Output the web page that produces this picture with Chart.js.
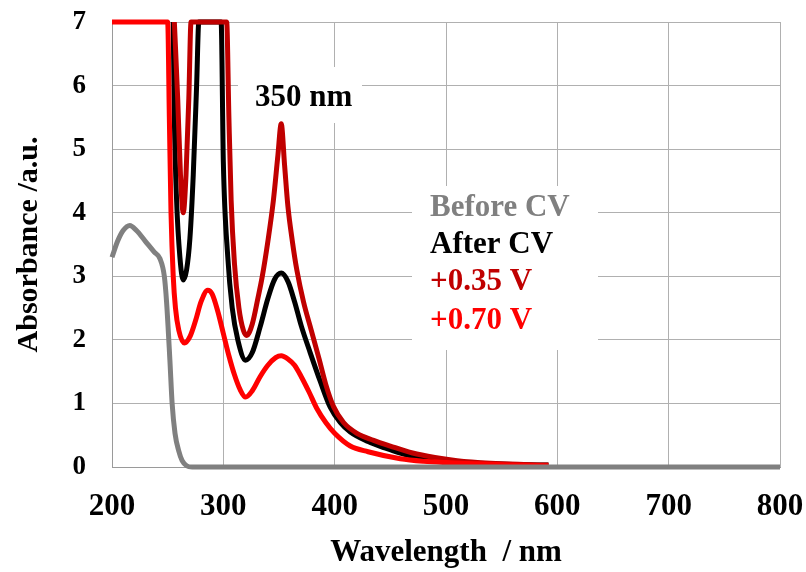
<!DOCTYPE html>
<html lang="en">
<head>
  <meta charset="UTF-8">
  <title>Absorbance spectra</title>
  <script src="https://cdn.jsdelivr.net/npm/chart.js"></script>
  <style>
    html, body {
      margin: 0;
      padding: 0;
      background: #fff;
    }
    #wrap {
      width: 806px;
      height: 572px;
    }
  </style>
</head>
<body>
  <div id="wrap"><canvas id="grafico" width="806" height="572"></canvas></div>

  <script>
    // spectra (wavelength nm / absorbance)
    const wlBefore = [200, 205, 210, 216, 222, 230, 238, 243, 247, 249, 252, 254, 256.6, 260, 263, 267, 272, 800];
    const absBefore = [3.3, 3.55, 3.72, 3.8, 3.72, 3.55, 3.38, 3.28, 3.0, 2.6, 1.68, 1.0, 0.53, 0.25, 0.1, 0.02, 0, 0];

    const wlAfter = [255, 256, 258, 261, 264, 267, 270, 273, 276, 278, 298, 300, 304, 308, 313, 320, 326, 333, 340, 346, 352, 358, 364, 370, 378, 387, 396, 405, 414, 430, 445, 459, 480, 500, 530, 560, 592];
    const absAfter = [7, 5.5, 4.2, 3.3, 2.94, 3.1, 3.6, 4.6, 6.0, 7, 7, 4.8, 3.3, 2.5, 2.0, 1.68, 1.8, 2.2, 2.65, 2.95, 3.05, 2.92, 2.6, 2.22, 1.8, 1.35, 0.94, 0.7, 0.55, 0.4, 0.3, 0.22, 0.13, 0.09, 0.06, 0.04, 0.03];

    const wl035 = [256, 259, 261.5, 264, 266.5, 269, 271, 303, 305, 307, 310, 314, 318, 321, 326, 331, 335, 340, 345, 349, 352, 355, 358, 362, 366, 372, 379, 386, 392, 399, 408, 420, 435, 450, 470, 490, 510, 540, 570, 592];
    const abs035 = [7, 5.8, 4.6, 4.0, 4.6, 5.8, 7, 7, 5.5, 4.2, 3.2, 2.5, 2.15, 2.07, 2.25, 2.65, 3.0, 3.55, 4.2, 4.9, 5.4, 4.75, 4.1, 3.55, 3.1, 2.6, 2.15, 1.7, 1.3, 0.95, 0.7, 0.53, 0.42, 0.33, 0.22, 0.15, 0.1, 0.06, 0.04, 0.03];

    const wl070 = [200, 250, 251.5, 253, 255, 257, 260, 265, 270, 275, 280, 286, 290, 295, 300, 305, 310, 315, 320, 326, 333, 340, 347, 352, 358, 364, 370, 377, 384, 392, 400, 414, 430, 459, 480, 500, 530, 560, 592];
    const abs070 = [7, 7, 5.5, 4.0, 3.0, 2.5, 2.15, 1.95, 2.05, 2.3, 2.6, 2.78, 2.72, 2.45, 2.1, 1.75, 1.45, 1.22, 1.1, 1.2, 1.42, 1.6, 1.72, 1.75, 1.7, 1.6, 1.42, 1.18, 0.92, 0.7, 0.53, 0.33, 0.24, 0.13, 0.09, 0.07, 0.05, 0.03, 0.02];

    const etiquetas = ['Before CV', 'After CV', '+0.35 V', '+0.70 V'];
    const colores = ['#808080', '#000000', '#c00000', '#ff0000'];

    const fuente = '"Liberation Serif", "Times New Roman", serif';

    function puntos(xs, ys) {
      return xs.map((x, i) => ({ x: x, y: ys[i] }));
    }

    // no extra room for overflowing tick labels, layout padding decides
    function sinRelleno(s) {
      s.paddingTop = 0;
      s.paddingBottom = 0;
      s.paddingLeft = 0;
      s.paddingRight = 0;
    }

    // white boxes behind the annotation texts, then the texts
    const textos = {
      id: 'textos',
      beforeDatasetsDraw(chart) {
        const ctx = chart.ctx;
        ctx.save();
        ctx.fillStyle = '#fff';
        ctx.fillRect(238, 67, 124, 56);
        ctx.fillRect(412, 186, 186, 164);
        ctx.restore();
      },
      afterDatasetsDraw(chart) {
        const ctx = chart.ctx;
        ctx.save();
        ctx.font = 'bold 31px ' + fuente;
        ctx.textBaseline = 'middle';
        ctx.fillStyle = '#000';
        ctx.fillText('350 nm', 255, 98);
        const ys = [208, 245, 282, 321];
        etiquetas.forEach((t, i) => {
          ctx.fillStyle = colores[i];
          ctx.fillText(t, 430, ys[i]);
        });
        ctx.restore();
      }
    };

    const conjuntos = [
      { data: puntos(wlBefore, absBefore), color: colores[0], order: 0 },
      { data: puntos(wlAfter, absAfter), color: colores[1], order: 3 },
      { data: puntos(wl035, abs035), color: colores[2], order: 2 },
      { data: puntos(wl070, abs070), color: colores[3], order: 1 }
    ].map((d, i) => ({
      label: etiquetas[i],
      data: d.data,
      borderColor: d.color,
      backgroundColor: d.color,
      borderWidth: 5,
      pointRadius: 0,
      fill: false,
      cubicInterpolationMode: 'monotone',
      clip: 8,
      order: d.order
    }));

    new Chart(document.getElementById('grafico').getContext('2d'), {
      type: 'line',
      data: { datasets: conjuntos },
      plugins: [textos],
      options: {
        responsive: false,
        animation: false,
        layout: { padding: { left: 0, right: 26, top: 22, bottom: 0 } },
        plugins: {
          legend: { display: false },
          tooltip: { enabled: false }
        },
        scales: {
          x: {
            type: 'linear',
            min: 200,
            max: 800,
            afterFit(s) { s.height = 105; sinRelleno(s); },
            ticks: {
              stepSize: 100,
              padding: 21,
              color: '#000',
              font: { family: fuente, size: 31, weight: 'bold' }
            },
            grid: { color: '#b0b0b0', lineWidth: 1, drawTicks: false },
            border: { color: '#9a9a9a' },
            title: {
              display: true,
              text: 'Wavelength  / nm',
              color: '#000',
              padding: { top: 0, bottom: 0 },
              font: { family: fuente, size: 31, weight: 'bold' }
            }
          },
          y: {
            min: 0,
            max: 7,
            afterFit(s) { s.width = 112; sinRelleno(s); },
            ticks: {
              stepSize: 1,
              padding: 26,
              color: '#000',
              font: { family: fuente, size: 27, weight: 'bold' }
            },
            grid: { color: '#b0b0b0', lineWidth: 1, drawTicks: false },
            border: { color: '#9a9a9a' },
            title: {
              display: true,
              text: 'Absorbance /a.u.',
              color: '#000',
              padding: { top: 11, bottom: 0 },
              font: { family: fuente, size: 30, weight: 'bold' }
            }
          }
        }
      }
    });
  </script>
</body>
</html>
